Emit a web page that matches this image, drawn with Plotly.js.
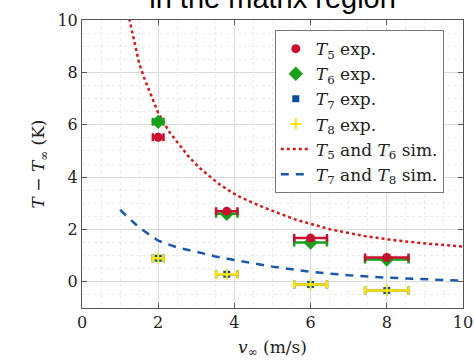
<!DOCTYPE html>
<html>
<head>
<meta charset="utf-8">
<script src="https://cdn.plot.ly/plotly-3.0.1.min.js"></script>
<style>html,body{margin:0;padding:0;background:#fff;}#chart{width:474px;height:364px;}</style>
</head>
<body>
<div id="chart"></div>
<script>
// Experimental points
const expX = [2.0, 3.8, 6.0, 8.0];
const expXErr = [0.14, 0.28, 0.43, 0.57];
const T5exp = [5.52, 2.70, 1.67, 0.93];
const T6exp = [6.11, 2.60, 1.50, 0.85];
const T7exp = [0.90, 0.29, -0.10, -0.33];
const T8exp = [0.90, 0.29, -0.10, -0.33];

// Simulation curves
const simRedX = [1.24, 1.4, 1.5, 1.65, 1.8, 2.0, 2.3, 2.6, 2.8, 3.1, 3.4, 3.6, 3.9, 4.1, 4.75, 5.6, 6.5, 7.4, 8.25, 9.1, 10];
const simRedY = [10.05, 9.05, 8.35, 7.72, 7.15, 6.45, 5.71, 5.13, 4.78, 4.33, 3.98, 3.73, 3.45, 3.27, 2.85, 2.38, 2.01, 1.75, 1.58, 1.45, 1.35];
const simBlueX = [1.0, 1.5, 2.0, 2.5, 3.0, 3.5, 4.0, 5.0, 6.0, 7.0, 8.0, 9.0, 10.0];
const simBlueY = [2.75, 2.07, 1.57, 1.31, 1.15, 0.97, 0.83, 0.58, 0.38, 0.25, 0.16, 0.09, 0.04];

const tickVals = [0, 2, 4, 6, 8, 10];
const tickText = ['0', '2', '4', '6', '8', '10'];

const names = ['<i>T</i><sub>5</sub> exp.', '<i>T</i><sub>6</sub> exp.', '<i>T</i><sub>7</sub> exp.', '<i>T</i><sub>8</sub> exp.',
  '<i>T</i><sub>5</sub> and <i>T</i><sub>6</sub> sim.', '<i>T</i><sub>7</sub> and <i>T</i><sub>8</sub> sim.'];

const RED = '#c8102e', GREEN = '#16a01c', BLUE = '#0a4f9e', YELLOW = '#ffe30a';

function expTrace(y, name, color, symbol, size, extra) {
  return Object.assign({
    x: expX, y: y, name: name, type: 'scatter', mode: 'markers',
    marker: {color: color, symbol: symbol, size: size},
    error_x: {type: 'data', array: expXErr, visible: true, color: color, thickness: 2.5, width: 4}
  }, extra || {});
}

const traces = [
  {x: simRedX, y: simRedY, name: names[4], type: 'scatter', mode: 'lines', line: {color: '#d7191c', width: 2.5, dash: 'dot'}, legendrank: 5},
  {x: simBlueX, y: simBlueY, name: names[5], type: 'scatter', mode: 'lines', line: {color: '#1a5aa8', width: 2.5, dash: '8px,7px'}, legendrank: 6},
  expTrace(T6exp, names[1], GREEN, 'diamond', 11, {legendrank: 2}),
  expTrace(T5exp, names[0], RED, 'circle', 9, {legendrank: 1}),
  expTrace(T7exp, names[2], BLUE, 'square', 7, {legendrank: 3}),
  expTrace(T8exp, names[3], YELLOW, 'cross-thin', 8, {legendrank: 4, marker: {color: YELLOW, symbol: 'cross-thin', size: 8, line: {color: YELLOW, width: 2}}})
];

const serif = 'DejaVu Serif';
const layout = {
  width: 474, height: 364,
  margin: {l: 82, r: 11, t: 20, b: 56},
  paper_bgcolor: '#ffffff', plot_bgcolor: '#ffffff',
  title: {text: 'in the matrix region', font: {family: 'Liberation Sans', size: 29, color: '#000'},
    x: 0.575, xanchor: 'center', yref: 'container', y: 0.977, yanchor: 'bottom'},
  xaxis: {range: [0, 10], tickvals: tickVals, ticktext: tickText, ticks: 'inside', ticklen: 5, tickcolor: '#555',
    showline: true, linecolor: '#555', linewidth: 1, mirror: 'ticks', zeroline: false,
    showgrid: true, gridcolor: '#dcdcdc', gridwidth: 1,
    minor: {dtick: 0.5, showgrid: true, gridcolor: '#ececec', griddash: 'dot', ticks: ''},
    tickfont: {family: serif, size: 16, color: '#222'},
    title: {text: '<i>v</i><sub>∞</sub> (m/s)', font: {family: serif, size: 17, color: '#222'}, standoff: 9}},
  yaxis: {range: [-1, 10], tickvals: tickVals, ticktext: tickText, ticks: 'inside', ticklen: 5, tickcolor: '#555',
    showline: true, linecolor: '#555', linewidth: 1, mirror: 'ticks', zeroline: false,
    showgrid: true, gridcolor: '#dcdcdc', gridwidth: 1,
    minor: {dtick: 0.5, showgrid: true, gridcolor: '#ececec', griddash: 'dot', ticks: ''},
    tickfont: {family: serif, size: 16, color: '#222'},
    title: {text: '<i>T</i> − <i>T</i><sub>∞</sub> (K)', font: {family: serif, size: 17, color: '#222'}, standoff: 8}},
  legend: {x: 0.506, y: 0.965, xanchor: 'left', yanchor: 'top', bgcolor: '#ffffff', bordercolor: '#777', borderwidth: 1,
    font: {family: serif, size: 17, color: '#222'}, tracegroupgap: 0, itemwidth: 30, traceorder: 'normal'},
  showlegend: true
};

Plotly.newPlot('chart', traces, layout, {displayModeBar: false, staticPlot: true});
</script>
</body>
</html>
